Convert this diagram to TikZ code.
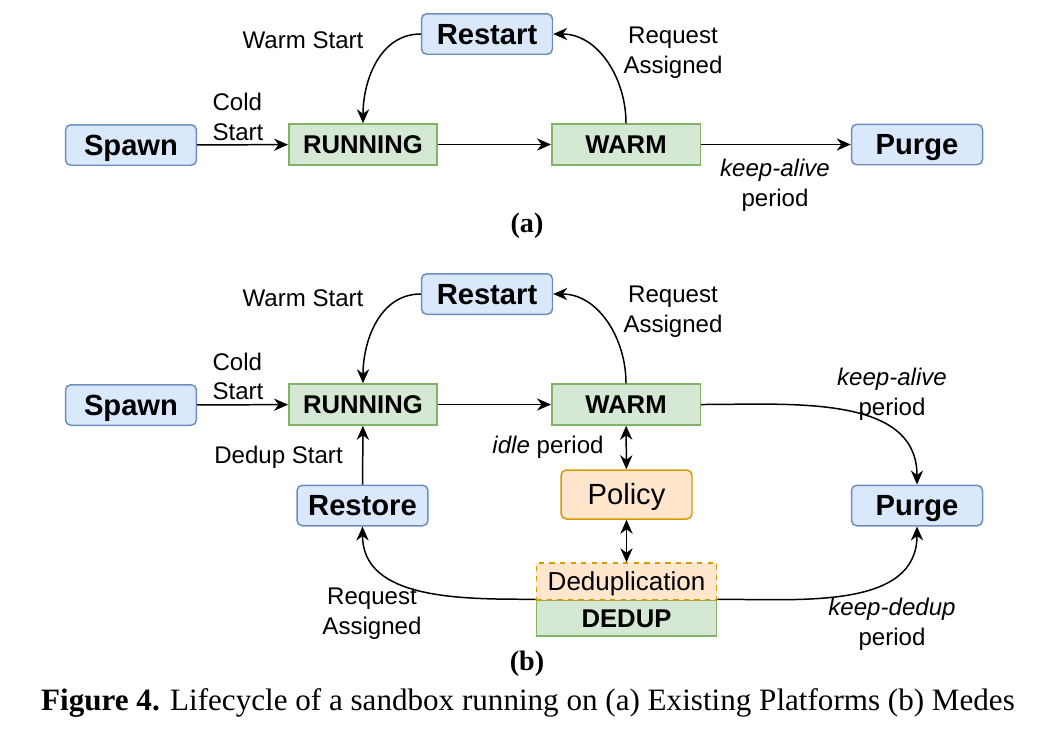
\documentclass[tikz,border=0pt]{standalone}
\usepackage{fontspec}
\setmainfont{Liberation Serif}
\setsansfont{Liberation Sans}
\usepackage{xcolor}
\usepackage{tikz}
\usetikzlibrary{positioning, arrows.meta}
\definecolor{eventfill}{HTML}{DAE8FC}
\definecolor{eventline}{HTML}{6C8EBF}
\definecolor{statefill}{HTML}{D5E8D4}
\definecolor{stateline}{HTML}{82B366}
\definecolor{policyfill}{HTML}{FFE6CC}
\definecolor{policyline}{HTML}{D79B00}

\begin{document}
\begin{tikzpicture}[
    x=0.02cm, y=-0.02cm,
    event/.style={draw=eventline, fill=eventfill, rounded corners=3pt, line width=0.85pt,
                  minimum width=2.62cm, minimum height=0.81cm, inner sep=0pt,
                  text height=12pt, text depth=0.6pt,
                  font=\sffamily\bfseries\fontsize{16.6}{19}\selectfont},
    state/.style={draw=stateline, fill=statefill, line width=0.85pt,
                  minimum width=2.97cm, minimum height=0.82cm, inner sep=0pt,
                  text height=11pt, text depth=0.4pt,
                  font=\sffamily\bfseries\fontsize{14.6}{17}\selectfont},
    policy/.style={draw=policyline, fill=policyfill, rounded corners=3pt, line width=0.85pt,
                   minimum width=2.62cm, minimum height=0.98cm, inner sep=0pt,
                   text height=12pt, text depth=0.6pt,
                   font=\sffamily\fontsize{16.6}{19}\selectfont},
    lbl/.style={font=\sffamily\fontsize{13.7}{16.9}\selectfont, align=center, inner sep=0pt},
    sub/.style={font=\rmfamily\bfseries\fontsize{16}{19}\selectfont, inner sep=0pt},
    arr/.style={-{Stealth[length=8pt, width=7pt]}, line width=0.85pt},
    both/.style={{Stealth[length=8pt, width=7pt]}-{Stealth[length=8pt, width=7pt]}, line width=0.85pt},
]
\useasboundingbox (0,0) rectangle (1050,734);

% (a) Existing platforms
\node[event] (spawnA) at (131,145) {Spawn};
\node[state] (runA) at (363,144.5) {RUNNING};
\node[event] (restartA) at (487,34) {Restart};
\node[state] (warmA) at (626,144.5) {WARM};
\node[event] (purgeA) at (917,144.5) {Purge};

\draw[arr] (spawnA) -- (runA);
\draw[arr] (runA) -- (warmA);
\draw[arr] (restartA.west) to[out=180, in=90] (runA.north);
\draw[arr] (warmA.north) to[out=90, in=0] (restartA.east);
\draw[arr] (warmA) -- (purgeA);

\node[lbl] (warmstartA) at (303,40) {Warm Start};
\node[lbl, align=left] (coldstartA) at (238,117) {Cold\\Start};
\node[lbl] (requestA) at (673,53) {Request\\Assigned};
\node[lbl] (keepaliveA) at (775,185) {\textit{keep-alive}\\period};
\node[sub] (capA) at (527,226) {(a)};

% (b) Medes
\node[event] (spawnB) at (131,405) {Spawn};
\node[state] (runB) at (363,404.5) {RUNNING};
\node[event] (restartB) at (487,294) {Restart};
\node[state] (warmB) at (626,404.5) {WARM};
\node[event] (purgeB) at (917,505.5) {Purge};
\node[event] (restoreB) at (362.5,505.5) {Restore};
\node[policy] (policyB) at (626.5,494.5) {Policy};
\node[state, minimum width=3.61cm, minimum height=0.72cm] (dedupB) at (626.5,618) {DEDUP};
\node[policy, rounded corners=0pt, dashed, minimum width=3.61cm,
      minimum height=0.74cm, text height=11pt, text depth=0.4pt,
      font=\sffamily\fontsize{14.8}{17}\selectfont]
      (dedupTagB) at (626.5,581.5) {Deduplication};

\draw[arr] (spawnB) -- (runB);
\draw[arr] (runB) -- (warmB);
\draw[arr] (restartB.west) to[out=180, in=90] (runB.north);
\draw[arr] (warmB.north) to[out=90, in=0] (restartB.east);
\draw[arr] (warmB.east) to[out=0, in=90] (purgeB.north);
\draw[both] (warmB) -- (policyB);
\draw[both] (policyB) -- (dedupTagB);
\draw[arr] (restoreB) -- (runB);
\draw[arr] (dedupB.north west) to[out=180, in=-90] (restoreB.south);
\draw[arr] (dedupB.north east) to[out=0, in=-90] (purgeB.south);

\node[lbl] (warmstartB) at (303,298) {Warm Start};
\node[lbl, align=left] (coldstartB) at (238,376.5) {Cold\\Start};
\node[lbl] (requestB) at (673,312) {Request\\Assigned};
\node[lbl] (keepaliveB) at (892,394) {\textit{keep-alive}\\period};
\node[lbl] (dedupstartB) at (278.5,457) {Dedup Start};
\node[lbl] (idleB) at (548,447) {\textit{idle} period};
\node[lbl] (restoreReqB) at (372,614) {Request\\Assigned};
\node[lbl] (keepdedupB) at (892,624) {\textit{keep-dedup}\\period};
\node[sub] (capB) at (527,664) {(b)};

% Caption
\node[font=\rmfamily\fontsize{17.7}{20}\selectfont, inner sep=0pt] (caption) at (528,703)
     {\textbf{Figure 4.} Lifecycle of a sandbox running on (a) Existing Platforms (b) Medes};

\end{tikzpicture}
\end{document}
